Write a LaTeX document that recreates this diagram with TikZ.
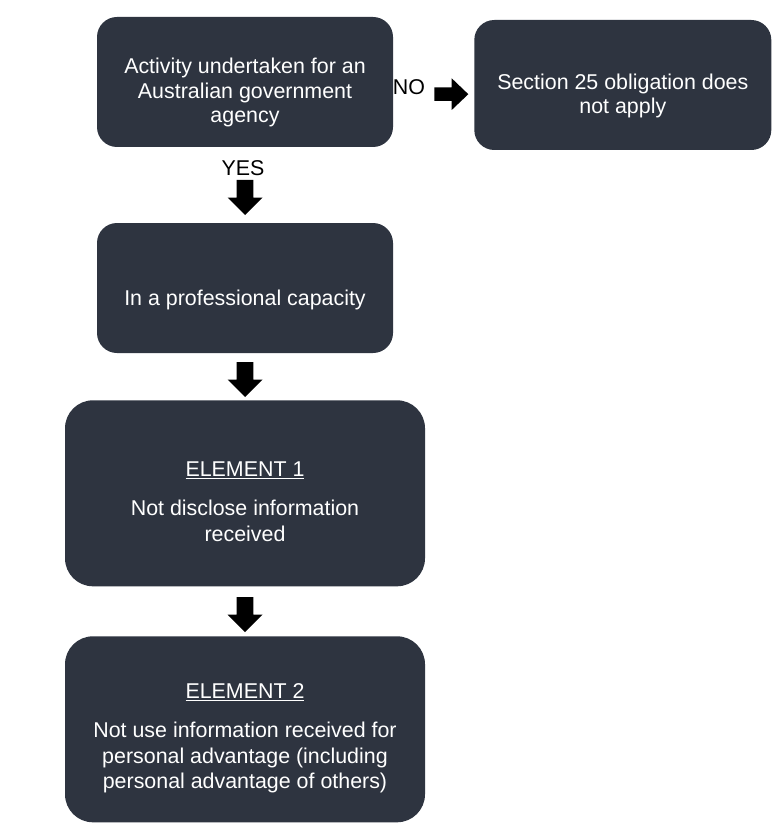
\documentclass[tikz,border=0pt]{standalone}
\usepackage{fontspec}
\setmainfont{Liberation Sans}
\definecolor{boxfill}{HTML}{2E3440}
\newcommand\blkdown[2]{%
  \fill[black] (#1-8.3,#2) -- (#1+8.3,#2) -- (#1+8.3,#2+17.5) -- (#1+17.5,#2+17.5)
    -- (#1,#2+35) -- (#1-17.5,#2+17.5) -- (#1-8.3,#2+17.5) -- cycle;}
\begin{document}
\begin{tikzpicture}[x=1pt,y=-1pt,
  box/.style={draw=none, fill=boxfill, rounded corners=20pt, inner sep=0pt},
  txt/.style={text=white, align=center, font=\fontsize{21.4}{24.5}\selectfont, inner sep=0pt},
  etxt/.style={txt, font=\fontsize{21.4}{25.5}\selectfont},
  lbl/.style={text=black, font=\fontsize{21.4}{24}\selectfont, inner sep=0pt}]
\useasboundingbox[fill=white] (0,0) rectangle (778,829);

\node[box, minimum width=296pt, minimum height=130pt] (a) at (245,82) {};
\node[txt] (at) at (245,92.5) {Activity undertaken for an\\Australian government\\agency};

\node[box, minimum width=297pt, minimum height=130pt] (b) at (622.8,85) {};
\node[txt] (bt) at (622.8,96) {Section 25 obligation does\\not apply};

\node[box, minimum width=296pt, minimum height=130pt] (c) at (245,288) {};
\node[txt] (ct) at (245,299.5) {In a professional capacity};

\node[box, rounded corners=28pt, minimum width=360pt, minimum height=186pt] (d) at (245,493.3) {};
\node[etxt] (dt) at (245,501.7) {\underline{ELEMENT 1}\\[14pt]Not disclose information\\received};

\node[box, rounded corners=28pt, minimum width=360pt, minimum height=186pt] (e) at (245,729.3) {};
\node[etxt] (et) at (245,738.5) {\underline{ELEMENT 2}\\[13.5pt]Not use information received for\\personal advantage (including\\personal advantage of others)};

\node[lbl] (yes) at (243,168.3) {YES};
\node[lbl] (no) at (409,87.5) {NO};

\blkdown{245}{180}
\blkdown{245}{362}
\blkdown{245}{597}

\fill[black] (434.3,87.5) -- (451.7,87.5) -- (451.7,78.3) -- (468.3,94.2)
  -- (451.7,110) -- (451.7,101) -- (434.3,101) -- cycle;
\end{tikzpicture}
\end{document}
